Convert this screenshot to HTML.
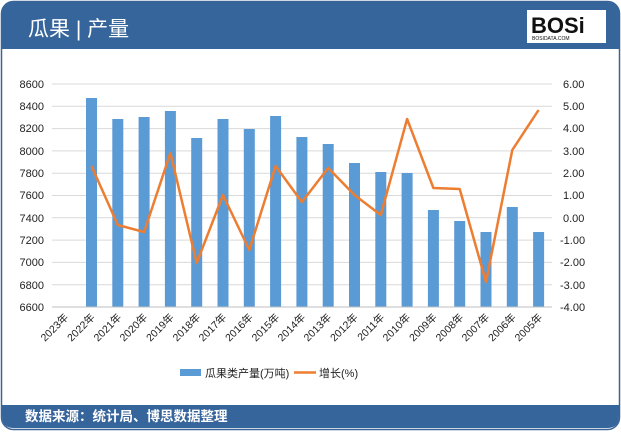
<!DOCTYPE html>
<html><head><meta charset="utf-8"><style>
body{margin:0;width:621px;height:433px;background:#fff;overflow:hidden;font-family:"Liberation Sans","Noto Sans CJK SC",sans-serif}
</style></head><body>
<svg width="621" height="433" xmlns="http://www.w3.org/2000/svg" font-family="Liberation Sans, Noto Sans CJK SC, sans-serif">
<rect x="1.5" y="1.5" width="618" height="428" rx="12" fill="#fff" stroke="#3a6496" stroke-width="1.5"/>
<path d="M2 49 V14 Q2 2 14 2 H607 Q619 2 619 14 V49 Z" fill="#36659b"/>
<text x="28" y="36" font-size="21" fill="#fff">瓜果 | 产量</text>
<rect x="527" y="10" width="79" height="33" fill="#fff"/>
<text x="531" y="33" font-size="22" font-weight="bold" fill="#111">BOSi</text>
<text x="532" y="40" font-size="5" fill="#111">BOSIDATA.COM</text>
<path d="M2 405 H619 V416 Q619 428 607 428 H14 Q2 428 2 416 Z" fill="#36659b"/>
<text x="25" y="421" font-size="13.5" font-weight="bold" fill="#fff">数据来源：统计局、博思数据整理</text>
<g stroke="#d9d9d9" stroke-width="1">
<line x1="52" x2="552" y1="84" y2="84"/><line x1="52" x2="552" y1="106.3" y2="106.3"/><line x1="52" x2="552" y1="128.6" y2="128.6"/><line x1="52" x2="552" y1="150.9" y2="150.9"/><line x1="52" x2="552" y1="173.2" y2="173.2"/><line x1="52" x2="552" y1="195.5" y2="195.5"/><line x1="52" x2="552" y1="217.8" y2="217.8"/><line x1="52" x2="552" y1="240.1" y2="240.1"/><line x1="52" x2="552" y1="262.4" y2="262.4"/><line x1="52" x2="552" y1="284.7" y2="284.7"/><line x1="52" x2="552" y1="307" y2="307"/>
</g>
<g font-size="11" fill="#222" text-anchor="end">
<text x="44" y="88">8600</text><text x="44" y="110">8400</text><text x="44" y="132">8200</text><text x="44" y="155">8000</text><text x="44" y="177">7800</text><text x="44" y="199">7600</text><text x="44" y="222">7400</text><text x="44" y="244">7200</text><text x="44" y="266">7000</text><text x="44" y="289">6800</text><text x="44" y="311">6600</text>
</g>
<g font-size="11" fill="#222" text-anchor="start">
<text x="563" y="88">6.00</text><text x="563" y="110">5.00</text><text x="563" y="132">4.00</text><text x="563" y="155">3.00</text><text x="563" y="177">2.00</text><text x="563" y="199">1.00</text><text x="563" y="222">0.00</text><text x="560" y="244">-1.00</text><text x="560" y="266">-2.00</text><text x="560" y="289">-3.00</text><text x="560" y="311">-4.00</text>
</g>
<g fill="#5b9bd5">
<rect x="86" y="98" width="11" height="209"/>
<rect x="112.3" y="119" width="11" height="188"/>
<rect x="138.6" y="117" width="11" height="190"/>
<rect x="164.9" y="111" width="11" height="196"/>
<rect x="191.2" y="138" width="11" height="169"/>
<rect x="217.5" y="119" width="11" height="188"/>
<rect x="243.8" y="129" width="11" height="178"/>
<rect x="270.1" y="116" width="11" height="191"/>
<rect x="296.4" y="137" width="11" height="170"/>
<rect x="322.7" y="144" width="11" height="163"/>
<rect x="349" y="163" width="11" height="144"/>
<rect x="375.3" y="172" width="11" height="135"/>
<rect x="401.6" y="173" width="11" height="134"/>
<rect x="427.9" y="210" width="11" height="97"/>
<rect x="454.2" y="221" width="11" height="86"/>
<rect x="480.5" y="232" width="11" height="75"/>
<rect x="506.8" y="207" width="11" height="100"/>
<rect x="533.1" y="232" width="11" height="75"/>
</g>
<polyline fill="none" stroke="#ed7d31" stroke-width="2.5" stroke-linejoin="round" points="91.5,166 117.8,225 144.1,232 170.4,153 196.7,263 223,195 249.3,250 275.6,166 301.9,202 328.2,168 354.5,195 380.8,215 407.1,119 433.4,188 459.7,189 486,282 512.3,150 538.6,110"/>
<line x1="52" x2="552" y1="307" y2="307" stroke="#bfbfbf"/>
<g font-size="10.5" fill="#222" text-anchor="end">
<text transform="translate(69,318) rotate(-45)">2023年</text>
<text transform="translate(95.5,318) rotate(-45)">2022年</text>
<text transform="translate(122,318) rotate(-45)">2021年</text>
<text transform="translate(148,318) rotate(-45)">2020年</text>
<text transform="translate(174.5,318) rotate(-45)">2019年</text>
<text transform="translate(201,318) rotate(-45)">2018年</text>
<text transform="translate(227,318) rotate(-45)">2017年</text>
<text transform="translate(253.5,318) rotate(-45)">2016年</text>
<text transform="translate(280,318) rotate(-45)">2015年</text>
<text transform="translate(306,318) rotate(-45)">2014年</text>
<text transform="translate(332,318) rotate(-45)">2013年</text>
<text transform="translate(358.5,318) rotate(-45)">2012年</text>
<text transform="translate(385,318) rotate(-45)">2011年</text>
<text transform="translate(411,318) rotate(-45)">2010年</text>
<text transform="translate(437.5,318) rotate(-45)">2009年</text>
<text transform="translate(464,318) rotate(-45)">2008年</text>
<text transform="translate(490,318) rotate(-45)">2007年</text>
<text transform="translate(516.5,318) rotate(-45)">2006年</text>
<text transform="translate(543,318) rotate(-45)">2005年</text>
</g>
<rect x="180" y="369" width="21" height="7" fill="#5b9bd5"/>
<text x="205" y="377" font-size="11" fill="#222">瓜果类产量(万吨)</text>
<line x1="294" x2="316" y1="372.5" y2="372.5" stroke="#ed7d31" stroke-width="2.5"/>
<text x="319" y="377" font-size="11" fill="#222">增长(%)</text>
</svg>
</body></html>
